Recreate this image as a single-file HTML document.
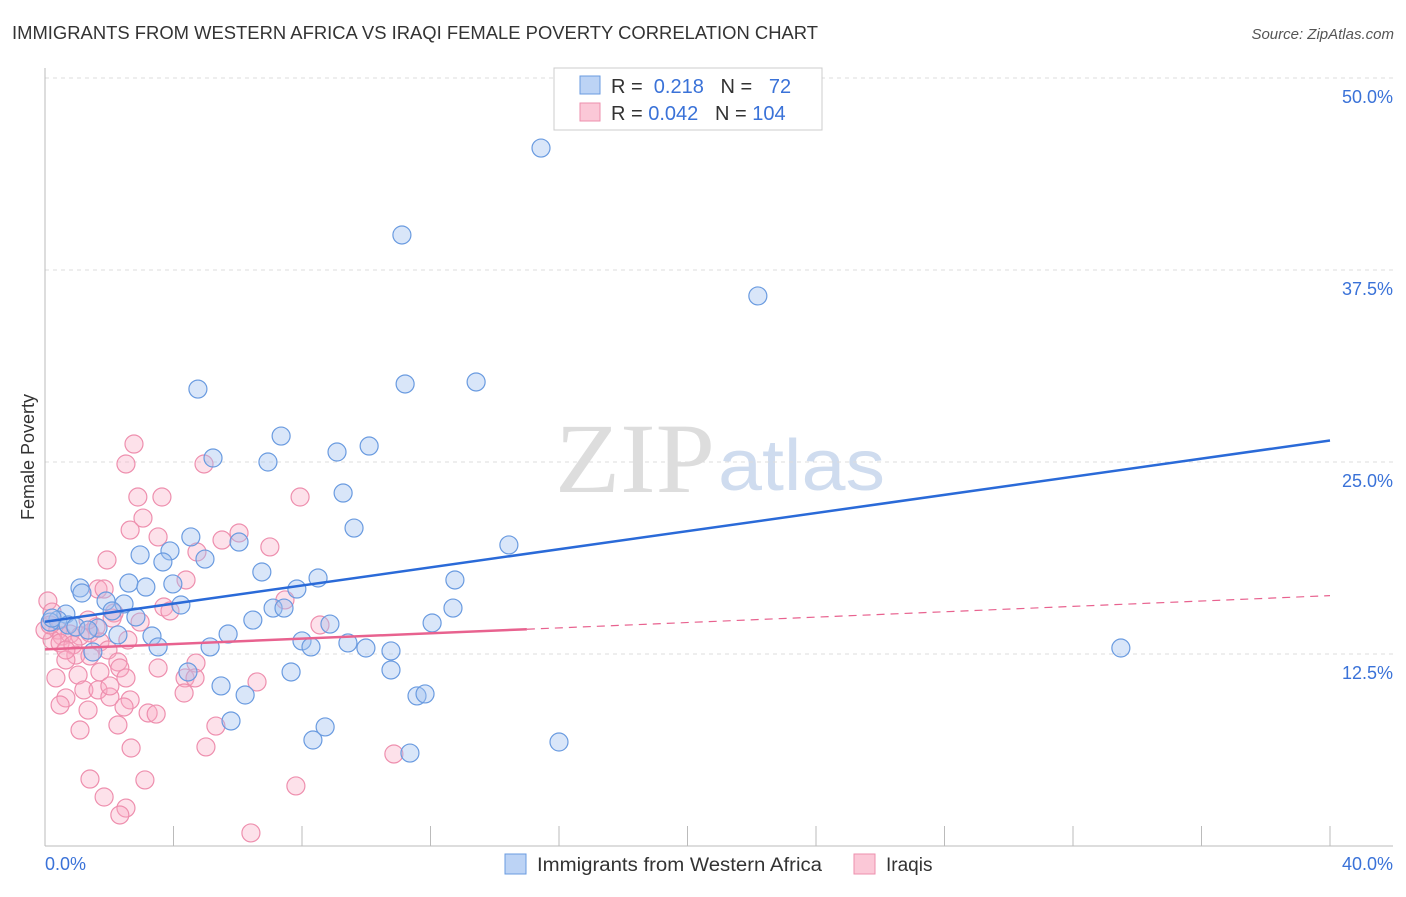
<!DOCTYPE html>
<html><head><meta charset="utf-8"><style>
body{margin:0;background:#fff;font-family:"Liberation Sans",sans-serif}
</style></head><body>
<svg id="c" width="1406" height="892" xmlns="http://www.w3.org/2000/svg">
<text x="12" y="39" font-size="18" fill="#333" textLength="806" lengthAdjust="spacingAndGlyphs">IMMIGRANTS FROM WESTERN AFRICA VS IRAQI FEMALE POVERTY CORRELATION CHART</text>
<text x="1394" y="39" font-size="15" fill="#555" font-style="italic" text-anchor="end">Source: ZipAtlas.com</text>
<text x="34" y="457" font-size="18" fill="#333" text-anchor="middle" transform="rotate(-90 34 457)">Female Poverty</text>
<text x="555" y="492" font-size="100" fill="#ddd" font-family="Liberation Serif" textLength="160" lengthAdjust="spacingAndGlyphs">ZIP</text>
<text x="718" y="490" font-size="72" fill="#cfdcef" textLength="167" lengthAdjust="spacingAndGlyphs">atlas</text>
<g id="grid"></g><g id="pts"></g><g id="lines"></g>
<g>
<rect x="554" y="68" width="268" height="62" fill="#fff" stroke="#ccc"/>
<rect x="580" y="76" width="20" height="18" fill="#bcd3f5" stroke="#6a9be0"/>
<rect x="580" y="103" width="20" height="18" fill="#fbc8d7" stroke="#ee8fae"/>
<text x="611" y="93" font-size="20" fill="#333">R = <tspan fill="#3a72d8">&#160;0.218</tspan>&#160;&#160;&#160;N = <tspan fill="#3a72d8">&#160;&#160;72</tspan></text>
<text x="611" y="120" font-size="20" fill="#333">R = <tspan fill="#3a72d8">0.042</tspan>&#160;&#160;&#160;N = <tspan fill="#3a72d8">104</tspan></text>
</g>
<g>
<rect x="505" y="854" width="21" height="20" fill="#bcd3f5" stroke="#6a9be0"/>
<text x="537" y="871" font-size="19" fill="#333" textLength="285" lengthAdjust="spacingAndGlyphs">Immigrants from Western Africa</text>
<rect x="854" y="854" width="21" height="20" fill="#fbc8d7" stroke="#ee8fae"/>
<text x="886" y="871" font-size="19" fill="#333">Iraqis</text>
</g>
</svg>
<script>
const yTicks=[12.5,25,37.5,50];
const xTickLabels=["0.0%","40.0%"];
const blueX=[];const blueY=[];
const pinkX=[];const pinkY=[];
const bluePx=[[541,148],[402,235],[758,296],[405,384],[476,382],[198,389],[281,436],[213,458],[268,462],[337,452],[369,446],[343,493],[354,528],[509,545],[191,537],[239,542],[140,555],[170,551],[163,562],[205,559],[262,572],[318,578],[455,580],[129,583],[146,587],[173,584],[297,589],[80,588],[82,593],[106,601],[124,604],[181,605],[66,614],[136,617],[112,611],[253,620],[273,608],[284,608],[330,624],[432,623],[453,608],[58,620],[50,622],[68,625],[98,628],[118,635],[152,636],[158,647],[210,647],[228,634],[302,641],[311,647],[348,643],[366,648],[391,651],[93,652],[291,672],[391,670],[188,672],[221,686],[245,695],[417,696],[425,694],[231,721],[325,727],[313,740],[410,753],[559,742],[1121,648],[52,618],[76,627],[88,630]];
const pinkPx=[[134,444],[126,464],[204,464],[138,497],[162,497],[300,497],[143,518],[130,530],[239,533],[158,537],[222,540],[270,547],[197,552],[107,560],[186,580],[98,589],[104,589],[48,601],[52,612],[164,607],[170,611],[114,613],[112,618],[285,600],[58,630],[62,636],[70,634],[80,636],[90,633],[96,627],[52,640],[60,643],[73,645],[100,642],[128,640],[76,655],[66,660],[90,656],[108,650],[118,662],[158,668],[196,663],[56,678],[78,675],[100,672],[120,668],[126,678],[185,678],[195,678],[257,682],[66,698],[84,690],[98,690],[110,697],[130,700],[60,705],[88,710],[124,707],[148,713],[156,714],[184,693],[216,726],[118,725],[80,730],[131,748],[206,747],[394,754],[90,779],[145,780],[104,797],[296,786],[126,808],[120,815],[251,833],[320,625],[45,630],[50,625],[88,620],[140,622],[66,650],[110,686]];
bluePx.forEach(p=>{blueX.push(+((p[0]-45)/1285*40).toFixed(2));blueY.push(+((846-p[1])/768*50).toFixed(2));});
pinkPx.forEach(p=>{pinkX.push(+((p[0]-45)/1285*40).toFixed(2));pinkY.push(+((846-p[1])/768*50).toFixed(2));});
const blueTrend=[14.6,26.4];const pinkTrend=[12.8,16.3];
const sx=v=>45+v/40*1285, sy=v=>846-v/50*768;
const NS="http://www.w3.org/2000/svg";
function mk(t,a,parent){const e=document.createElementNS(NS,t);for(const k in a)e.setAttribute(k,a[k]);parent.appendChild(e);return e;}
const g=document.getElementById('grid');
yTicks.forEach(v=>{
 const l=mk('line',{x1:45,x2:1393,y1:sy(v),y2:sy(v),stroke:'#ddd','stroke-dasharray':'4,4'},g);
 
 
 const t=mk('text',{x:1393,y:sy(v)+25,'font-size':18,fill:'#3a72d8','text-anchor':'end'},g);
 t.textContent=v.toFixed(1)+'%';
 
 
});
const ax=mk('line',{x1:45,x2:1393,y1:846,y2:846,stroke:'#bbb'},g);


const ay=mk('line',{x1:45,x2:45,y1:68,y2:846,stroke:'#bbb'},g);


for(let i=1;i<=10;i++){const t=mk('line',{x1:sx(i*4),x2:sx(i*4),y1:826,y2:846,stroke:'#bbb'},g);
 
 }
[[0,'start'],[40,'end']].forEach((d,i)=>{const t=mk('text',{x:i?1393:45,y:870,'font-size':18,fill:'#3a72d8','text-anchor':d[1]},g);t.textContent=xTickLabels[i];
 
 });
const P=document.getElementById('pts');
pinkX.forEach((x,i)=>{const c=mk('circle',{cx:sx(x),cy:sy(pinkY[i]),r:9,fill:'rgba(248,170,195,0.35)',stroke:'#ee8fae','stroke-width':1.2},P);
 
 });
blueX.forEach((x,i)=>{const c=mk('circle',{cx:sx(x),cy:sy(blueY[i]),r:9,fill:'rgba(160,192,240,0.4)',stroke:'#6a9be0','stroke-width':1.2},P);
 
 });
const L=document.getElementById('lines');
const bl=mk('line',{x1:sx(0),y1:sy(blueTrend[0]),x2:sx(40),y2:sy(blueTrend[1]),stroke:'#2a6ad8','stroke-width':2.5},L);


const pm=pinkTrend[0]+(pinkTrend[1]-pinkTrend[0])*15/40;
const pl=mk('line',{x1:sx(0),y1:sy(pinkTrend[0]),x2:sx(15),y2:sy(pm),stroke:'#e8628f','stroke-width':2.5},L);


const pd=mk('line',{x1:sx(15),y1:sy(pm),x2:sx(40),y2:sy(pinkTrend[1]),stroke:'#e8628f','stroke-width':1.2,'stroke-dasharray':'8,6'},L);


</script>
</body></html>
